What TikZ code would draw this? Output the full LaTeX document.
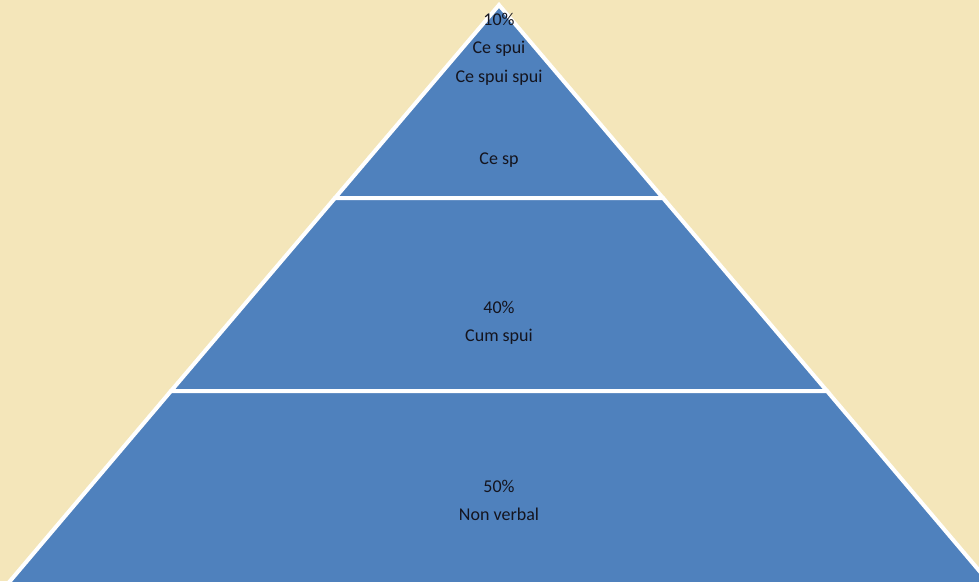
\documentclass[tikz,border=0pt]{standalone}
\usepackage{fontspec}
\setmainfont{Carlito}
\definecolor{bgBeige}{RGB}{244,230,186}
\definecolor{pyrBlue}{RGB}{79,129,189}
\definecolor{textDark}{RGB}{20,20,30}

\begin{document}
\begin{tikzpicture}[x = 1pt, y = -1pt]
	\tikzstyle{bandStyle} = [fill = pyrBlue, draw = white, line width = 4pt, line join = miter]
	\tikzstyle{labelStyle} = [anchor = base, inner sep = 0pt, text = textDark, font = \fontsize{18}{21}\selectfont]
	\fill[bgBeige] (0,0) rectangle (979,581);
	\useasboundingbox (0,0) rectangle (979,581);
	\coordinate (apex) at (499,5);
	\coordinate (l1) at (335,198);
	\coordinate (r1) at (663,198);
	\coordinate (l2) at (171,391);
	\coordinate (r2) at (827,391);
	\coordinate (l3) at (-6,600);
	\coordinate (r3) at (1004,600);
	\draw[bandStyle] (apex) -- (r1) -- (l1) -- cycle;
	\draw[bandStyle] (l1) -- (r1) -- (r2) -- (l2) -- cycle;
	\draw[bandStyle] (l2) -- (r2) -- (r3) -- (l3) -- cycle;
	\node[labelStyle] (topPct) at (499,25) {10\%};
	\node[labelStyle] (topA) at (499,53) {Ce spui};
	\node[labelStyle] (topB) at (499,82) {Ce spui spui};
	\node[labelStyle] (topC) at (499,164) {Ce sp};
	\node[labelStyle] (midPct) at (499,313) {40\%};
	\node[labelStyle] (midA) at (499,341) {Cum spui};
	\node[labelStyle] (lowPct) at (499,492) {50\%};
	\node[labelStyle] (lowA) at (499,520) {Non verbal};
\end{tikzpicture}
\end{document}
